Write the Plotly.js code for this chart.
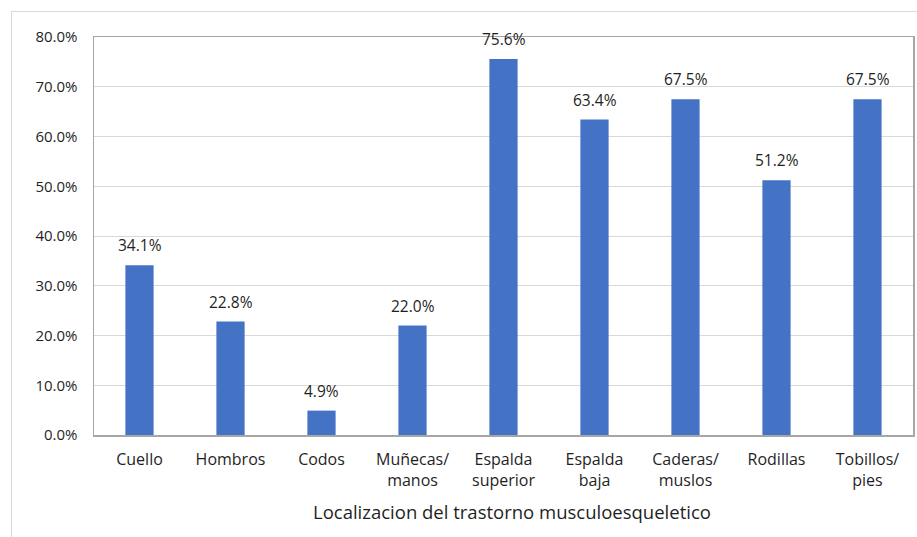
<!DOCTYPE html>
<html>
<head>
<meta charset="utf-8">
<script src="https://cdn.plot.ly/plotly-3.0.1.min.js"></script>
<style>
  html, body { margin: 0; padding: 0; background: #fff; overflow: hidden; }
  #wrap { position: relative; width: 917px; height: 537px; }
  #chart { position: absolute; left: 0; top: 0; width: 917px; height: 537px; }
  #frame { position: absolute; left: 11px; top: 11px; width: 920px; height: 540px;
           border-left: 1px solid #d9d9d9; border-top: 1px solid #d9d9d9; pointer-events: none; }
</style>
</head>
<body>
<div id="wrap">
  <div id="chart"></div>
  <div id="frame"></div>
</div>
<script>
const categories = ["Cuello", "Hombros", "Codos", "Muñecas/<br>manos", "Espalda<br>superior",
                    "Espalda<br>baja", "Caderas/<br>muslos", "Rodillas", "Tobillos/<br>pies"];
const values = [0.341, 0.228, 0.049, 0.220, 0.756, 0.634, 0.675, 0.512, 0.675];
const labels = ["34.1%", "22.8%", "4.9%", "22.0%", "75.6%", "63.4%", "67.5%", "51.2%", "67.5%"];
const xTitle = "Localizacion del trastorno musculoesqueletico";

const font = "'Open Sans', sans-serif";
const ink = "#1f1f1f";

const trace = {
  type: "bar",
  x: categories,
  y: values,
  marker: { color: "#4472C4" },
  hoverinfo: "none"
};

const annotations = categories.map((c, i) => ({
  x: c, y: values[i], xref: "x", yref: "y",
  text: labels[i], showarrow: false,
  yanchor: "bottom", yshift: 7,
  font: { family: font, size: 15.5, color: ink }
}));
annotations.push({
  x: 0.5098, y: 0, xref: "paper", yref: "paper",
  xanchor: "center", yanchor: "middle", yshift: -76,
  text: xTitle, showarrow: false,
  font: { family: font, size: 18.5, color: ink }
});

const layout = {
  width: 917, height: 537,
  margin: { l: 94, r: 4, t: 37, b: 102 },
  paper_bgcolor: "#fff",
  plot_bgcolor: "#fff",
  bargap: 0.69,
  showlegend: false,
  font: { family: font, size: 15, color: ink },
  annotations: annotations,
  xaxis: {
    type: "category",
    showline: true, mirror: true, linecolor: "#a6a6a6", linewidth: 1.5,
    ticks: "", ticklabelstandoff: 9,
    tickfont: { family: font, size: 16, color: ink }
  },
  yaxis: {
    range: [0, 0.8], dtick: 0.1, tickformat: ".1%",
    showline: true, mirror: true, linecolor: "#a6a6a6", linewidth: 1.5,
    showgrid: true, gridcolor: "#d9d9d9", gridwidth: 1,
    zeroline: false,
    ticks: "", ticklabelstandoff: 12,
    tickfont: { family: font, size: 15, color: ink }
  }
};

Plotly.newPlot("chart", [trace], layout, { staticPlot: true, displayModeBar: false });
</script>
</body>
</html>
